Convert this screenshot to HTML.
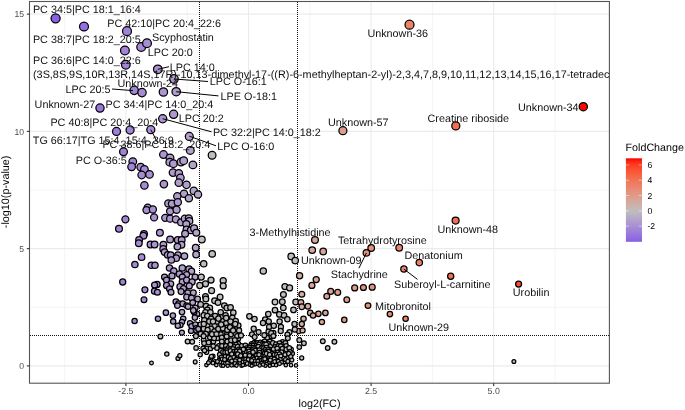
<!DOCTYPE html><html><head><meta charset="utf-8"><style>html,body{margin:0;padding:0;background:#fff;}svg{display:block;will-change:transform;}text{font-family:"Liberation Sans",sans-serif;text-rendering:geometricPrecision;}</style></head><body>
<svg width="685" height="410" viewBox="0 0 685 410">
<defs><clipPath id="pc"><rect x="29.5" y="1.5" width="579.9" height="381.7"/></clipPath>
<linearGradient id="cb" x1="0" y1="0" x2="0" y2="1"><stop offset="0.000" stop-color="#ff0000"/><stop offset="0.050" stop-color="#fd2e16"/><stop offset="0.100" stop-color="#fb4427"/><stop offset="0.150" stop-color="#f95536"/><stop offset="0.200" stop-color="#f66344"/><stop offset="0.250" stop-color="#f37052"/><stop offset="0.300" stop-color="#ef7b60"/><stop offset="0.350" stop-color="#ea876e"/><stop offset="0.400" stop-color="#e5917c"/><stop offset="0.450" stop-color="#de9b8a"/><stop offset="0.500" stop-color="#d7a598"/><stop offset="0.550" stop-color="#cfafa7"/><stop offset="0.600" stop-color="#c5b9b5"/><stop offset="0.650" stop-color="#bcb9c1"/><stop offset="0.700" stop-color="#b7acc7"/><stop offset="0.750" stop-color="#b19fcc"/><stop offset="0.800" stop-color="#aa92d2"/><stop offset="0.850" stop-color="#a285d7"/><stop offset="0.900" stop-color="#9a79dc"/><stop offset="0.950" stop-color="#916ce2"/><stop offset="1.000" stop-color="#865ee7"/></linearGradient></defs>
<rect width="685" height="410" fill="#fff"/>
<line x1="64.60" y1="1.5" x2="64.60" y2="383.2" stroke="#ebebeb" stroke-width="0.55"/><line x1="187.20" y1="1.5" x2="187.20" y2="383.2" stroke="#ebebeb" stroke-width="0.55"/><line x1="309.80" y1="1.5" x2="309.80" y2="383.2" stroke="#ebebeb" stroke-width="0.55"/><line x1="432.40" y1="1.5" x2="432.40" y2="383.2" stroke="#ebebeb" stroke-width="0.55"/><line x1="555.00" y1="1.5" x2="555.00" y2="383.2" stroke="#ebebeb" stroke-width="0.55"/><line x1="29.5" y1="307.27" x2="609.4" y2="307.27" stroke="#ebebeb" stroke-width="0.55"/><line x1="29.5" y1="190.02" x2="609.4" y2="190.02" stroke="#ebebeb" stroke-width="0.55"/><line x1="29.5" y1="72.77" x2="609.4" y2="72.77" stroke="#ebebeb" stroke-width="0.55"/><line x1="125.90" y1="1.5" x2="125.90" y2="383.2" stroke="#ebebeb" stroke-width="1.1"/><line x1="248.50" y1="1.5" x2="248.50" y2="383.2" stroke="#ebebeb" stroke-width="1.1"/><line x1="371.10" y1="1.5" x2="371.10" y2="383.2" stroke="#ebebeb" stroke-width="1.1"/><line x1="493.70" y1="1.5" x2="493.70" y2="383.2" stroke="#ebebeb" stroke-width="1.1"/><line x1="29.5" y1="365.90" x2="609.4" y2="365.90" stroke="#ebebeb" stroke-width="1.1"/><line x1="29.5" y1="248.65" x2="609.4" y2="248.65" stroke="#ebebeb" stroke-width="1.1"/><line x1="29.5" y1="131.40" x2="609.4" y2="131.40" stroke="#ebebeb" stroke-width="1.1"/><line x1="29.5" y1="14.15" x2="609.4" y2="14.15" stroke="#ebebeb" stroke-width="1.1"/>
<g stroke="#111" stroke-width="1.0" stroke-dasharray="1 1">
<line x1="199.5" y1="2" x2="199.5" y2="383"/>
<line x1="297.5" y1="2" x2="297.5" y2="383"/>
<line x1="30" y1="335.5" x2="609" y2="335.5"/>
</g>
<g clip-path="url(#pc)" stroke="#000" stroke-width="1.25">
<circle cx="55.6" cy="18.3" r="4.53" fill="#8961e6"/>
<circle cx="84.0" cy="26.5" r="4.49" fill="#936fe0"/>
<circle cx="127.0" cy="31.2" r="4.47" fill="#a184d8"/>
<circle cx="124.9" cy="50.5" r="4.39" fill="#a183d8"/>
<circle cx="141.2" cy="47.0" r="4.40" fill="#a68bd5"/>
<circle cx="147.0" cy="43.2" r="4.42" fill="#a78dd4"/>
<circle cx="125.8" cy="64.7" r="4.32" fill="#a183d8"/>
<circle cx="157.8" cy="69.3" r="4.30" fill="#aa93d2"/>
<circle cx="174.0" cy="79.0" r="4.26" fill="#ae9ace"/>
<circle cx="134.2" cy="90.3" r="4.21" fill="#a487d6"/>
<circle cx="142.0" cy="92.6" r="4.19" fill="#a68bd5"/>
<circle cx="163.4" cy="92.0" r="4.20" fill="#ac95d1"/>
<circle cx="176.2" cy="91.7" r="4.20" fill="#af9bce"/>
<circle cx="100.0" cy="108.1" r="4.12" fill="#9977dd"/>
<circle cx="116.5" cy="131.4" r="4.00" fill="#9e7fda"/>
<circle cx="130.1" cy="130.0" r="4.01" fill="#a285d7"/>
<circle cx="150.8" cy="129.7" r="4.01" fill="#a88fd3"/>
<circle cx="173.6" cy="114.3" r="4.09" fill="#ae9ace"/>
<circle cx="162.7" cy="118.7" r="4.07" fill="#ab95d1"/>
<circle cx="189.3" cy="136.4" r="3.98" fill="#b2a2cb"/>
<circle cx="190.3" cy="150.4" r="3.90" fill="#b2a2cb"/>
<circle cx="123.5" cy="151.8" r="3.90" fill="#a082d9"/>
<circle cx="163.5" cy="154.6" r="3.88" fill="#ac95d0"/>
<circle cx="212.1" cy="155.3" r="3.88" fill="#bebebe"/>
<circle cx="409.5" cy="24.7" r="4.50" fill="#ec8268"/>
<circle cx="342.9" cy="130.7" r="4.01" fill="#de9c8b"/>
<circle cx="583.3" cy="106.7" r="4.13" fill="#ff0401"/>
<circle cx="455.8" cy="125.9" r="4.03" fill="#f36e50"/>
<circle cx="455.6" cy="220.6" r="3.49" fill="#f36e50"/>
<circle cx="518.6" cy="284.1" r="3.02" fill="#fa4d2e"/>
<circle cx="315.0" cy="240.1" r="3.36" fill="#d6a69a"/>
<circle cx="312.2" cy="250.1" r="3.29" fill="#d6a79b"/>
<circle cx="323.2" cy="251.5" r="3.28" fill="#d9a395"/>
<circle cx="291.2" cy="256.4" r="3.24" fill="#bebebe"/>
<circle cx="295.2" cy="260.6" r="3.21" fill="#bebebe"/>
<circle cx="263.3" cy="271.1" r="3.13" fill="#bebebe"/>
<circle cx="299.6" cy="275.7" r="3.09" fill="#d2aca2"/>
<circle cx="316.2" cy="279.6" r="3.06" fill="#d7a699"/>
<circle cx="371.2" cy="248.0" r="3.30" fill="#e5917c"/>
<circle cx="366.4" cy="252.9" r="3.27" fill="#e4937e"/>
<circle cx="399.2" cy="247.7" r="3.31" fill="#ea866d"/>
<circle cx="419.3" cy="262.6" r="3.20" fill="#ee7e63"/>
<circle cx="403.9" cy="269.1" r="3.14" fill="#eb846b"/>
<circle cx="450.7" cy="276.2" r="3.09" fill="#f37052"/>
<circle cx="513.9" cy="361.5" r="1.93" fill="#bebebe"/>
<circle cx="132.8" cy="161.6" r="3.84" fill="#a387d7"/>
<circle cx="131.6" cy="166.8" r="3.81" fill="#a386d7"/>
<circle cx="140.7" cy="167.1" r="3.81" fill="#a58ad5"/>
<circle cx="144.4" cy="169.5" r="3.80" fill="#a68cd4"/>
<circle cx="141.7" cy="175.0" r="3.77" fill="#a68bd5"/>
<circle cx="149.5" cy="174.4" r="3.77" fill="#a88fd3"/>
<circle cx="144.4" cy="185.4" r="3.71" fill="#a68cd4"/>
<circle cx="170.0" cy="157.9" r="3.86" fill="#ad98cf"/>
<circle cx="169.8" cy="162.2" r="3.84" fill="#ad98cf"/>
<circle cx="173.4" cy="163.7" r="3.83" fill="#ae9ace"/>
<circle cx="181.0" cy="162.0" r="3.84" fill="#b09ecd"/>
<circle cx="183.7" cy="160.7" r="3.85" fill="#b19fcc"/>
<circle cx="192.9" cy="164.9" r="3.83" fill="#b3a3ca"/>
<circle cx="173.0" cy="172.6" r="3.78" fill="#ae9acf"/>
<circle cx="178.8" cy="173.4" r="3.78" fill="#af9dcd"/>
<circle cx="180.4" cy="177.8" r="3.75" fill="#b09dcd"/>
<circle cx="178.8" cy="182.7" r="3.72" fill="#af9dcd"/>
<circle cx="186.5" cy="184.8" r="3.71" fill="#b1a0cc"/>
<circle cx="163.9" cy="184.1" r="3.72" fill="#ac96d0"/>
<circle cx="193.8" cy="190.9" r="3.68" fill="#b3a4ca"/>
<circle cx="198.0" cy="194.5" r="3.65" fill="#b4a6c9"/>
<circle cx="184.0" cy="193.7" r="3.66" fill="#b19fcc"/>
<circle cx="177.3" cy="196.3" r="3.64" fill="#af9cce"/>
<circle cx="188.9" cy="198.2" r="3.63" fill="#b2a1cb"/>
<circle cx="125.4" cy="219.3" r="3.50" fill="#a183d8"/>
<circle cx="119.0" cy="228.8" r="3.44" fill="#9f80d9"/>
<circle cx="147.7" cy="207.7" r="3.57" fill="#a78ed4"/>
<circle cx="146.5" cy="210.1" r="3.56" fill="#a78dd4"/>
<circle cx="152.9" cy="209.5" r="3.56" fill="#a990d3"/>
<circle cx="154.1" cy="217.4" r="3.51" fill="#a991d2"/>
<circle cx="144.0" cy="234.1" r="3.40" fill="#a68cd4"/>
<circle cx="143.4" cy="235.7" r="3.39" fill="#a68cd5"/>
<circle cx="159.9" cy="232.7" r="3.41" fill="#ab94d1"/>
<circle cx="139.1" cy="240.0" r="3.36" fill="#a58ad5"/>
<circle cx="168.3" cy="203.4" r="3.60" fill="#ad98d0"/>
<circle cx="172.0" cy="203.7" r="3.60" fill="#ae99cf"/>
<circle cx="177.8" cy="202.2" r="3.61" fill="#af9cce"/>
<circle cx="170.1" cy="211.3" r="3.55" fill="#ad98cf"/>
<circle cx="176.6" cy="209.8" r="3.56" fill="#af9cce"/>
<circle cx="165.2" cy="217.8" r="3.51" fill="#ac96d0"/>
<circle cx="170.1" cy="218.7" r="3.50" fill="#ad98cf"/>
<circle cx="175.9" cy="219.3" r="3.50" fill="#af9bce"/>
<circle cx="181.1" cy="222.3" r="3.48" fill="#b09ecd"/>
<circle cx="184.8" cy="218.7" r="3.50" fill="#b1a0cc"/>
<circle cx="188.8" cy="218.3" r="3.51" fill="#b2a1cb"/>
<circle cx="189.3" cy="221.1" r="3.49" fill="#b2a2cb"/>
<circle cx="186.3" cy="224.1" r="3.47" fill="#b1a0cc"/>
<circle cx="186.6" cy="229.6" r="3.43" fill="#b1a0cc"/>
<circle cx="190.9" cy="230.2" r="3.43" fill="#b2a2cb"/>
<circle cx="194.1" cy="228.4" r="3.44" fill="#b3a4ca"/>
<circle cx="196.3" cy="232.7" r="3.41" fill="#b3a5ca"/>
<circle cx="185.1" cy="233.7" r="3.40" fill="#b1a0cc"/>
<circle cx="170.1" cy="239.4" r="3.37" fill="#ad98cf"/>
<circle cx="177.8" cy="240.0" r="3.36" fill="#af9cce"/>
<circle cx="181.7" cy="240.0" r="3.36" fill="#b09ecd"/>
<circle cx="201.8" cy="239.4" r="3.37" fill="#bebebe"/>
<circle cx="138.8" cy="243.3" r="3.34" fill="#a58ad6"/>
<circle cx="150.5" cy="244.5" r="3.33" fill="#a88fd3"/>
<circle cx="154.6" cy="244.5" r="3.33" fill="#a991d2"/>
<circle cx="141.6" cy="257.2" r="3.24" fill="#a68bd5"/>
<circle cx="134.9" cy="264.5" r="3.18" fill="#a488d6"/>
<circle cx="151.3" cy="265.2" r="3.17" fill="#a88fd3"/>
<circle cx="155.0" cy="265.2" r="3.17" fill="#a991d2"/>
<circle cx="122.7" cy="282.0" r="3.04" fill="#a082d9"/>
<circle cx="157.1" cy="284.4" r="3.02" fill="#aa92d2"/>
<circle cx="181.5" cy="244.8" r="3.33" fill="#b09ecd"/>
<circle cx="177.4" cy="246.6" r="3.31" fill="#af9cce"/>
<circle cx="163.4" cy="244.8" r="3.33" fill="#ac95d1"/>
<circle cx="163.2" cy="249.0" r="3.30" fill="#ac95d1"/>
<circle cx="164.6" cy="252.1" r="3.27" fill="#ac96d0"/>
<circle cx="167.7" cy="254.8" r="3.25" fill="#ad97d0"/>
<circle cx="170.7" cy="255.1" r="3.25" fill="#ad99cf"/>
<circle cx="178.0" cy="255.1" r="3.25" fill="#af9ccd"/>
<circle cx="176.2" cy="258.2" r="3.23" fill="#af9bce"/>
<circle cx="171.3" cy="260.0" r="3.22" fill="#ae99cf"/>
<circle cx="184.4" cy="256.0" r="3.25" fill="#b19fcc"/>
<circle cx="195.7" cy="247.8" r="3.31" fill="#b3a5ca"/>
<circle cx="196.1" cy="254.5" r="3.26" fill="#b3a5ca"/>
<circle cx="212.2" cy="253.9" r="3.26" fill="#bebebe"/>
<circle cx="203.7" cy="263.7" r="3.19" fill="#bebebe"/>
<circle cx="169.5" cy="267.9" r="3.15" fill="#ad98cf"/>
<circle cx="173.8" cy="271.0" r="3.13" fill="#ae9ace"/>
<circle cx="182.3" cy="267.9" r="3.15" fill="#b09ecd"/>
<circle cx="189.0" cy="268.9" r="3.15" fill="#b2a2cb"/>
<circle cx="191.5" cy="271.3" r="3.13" fill="#b2a3cb"/>
<circle cx="172.0" cy="275.9" r="3.09" fill="#ae99cf"/>
<circle cx="179.3" cy="274.0" r="3.10" fill="#b09dcd"/>
<circle cx="186.6" cy="274.6" r="3.10" fill="#b1a0cc"/>
<circle cx="195.1" cy="277.1" r="3.08" fill="#b3a4ca"/>
<circle cx="201.2" cy="277.1" r="3.08" fill="#bebebe"/>
<circle cx="164.6" cy="277.1" r="3.08" fill="#ac96d0"/>
<circle cx="166.5" cy="280.1" r="3.05" fill="#ac97d0"/>
<circle cx="182.3" cy="277.1" r="3.08" fill="#b09ecd"/>
<circle cx="182.3" cy="282.0" r="3.04" fill="#b09ecd"/>
<circle cx="186.6" cy="280.1" r="3.05" fill="#b1a0cc"/>
<circle cx="192.1" cy="282.0" r="3.04" fill="#b3a3cb"/>
<circle cx="211.0" cy="280.1" r="3.05" fill="#bebebe"/>
<circle cx="223.2" cy="280.7" r="3.05" fill="#bebebe"/>
<circle cx="170.7" cy="283.8" r="3.02" fill="#ad99cf"/>
<circle cx="205.5" cy="283.8" r="3.02" fill="#bebebe"/>
<circle cx="144.9" cy="289.8" r="2.97" fill="#a78cd4"/>
<circle cx="144.0" cy="299.8" r="2.88" fill="#a68cd4"/>
<circle cx="154.6" cy="285.1" r="3.01" fill="#a991d2"/>
<circle cx="154.4" cy="291.2" r="2.96" fill="#a991d2"/>
<circle cx="157.4" cy="292.2" r="2.95" fill="#aa92d2"/>
<circle cx="134.6" cy="320.9" r="2.65" fill="#a487d6"/>
<circle cx="158.0" cy="318.8" r="2.68" fill="#aa93d2"/>
<circle cx="166.5" cy="285.5" r="3.01" fill="#ac97d0"/>
<circle cx="169.5" cy="288.8" r="2.98" fill="#ad98cf"/>
<circle cx="171.0" cy="292.2" r="2.95" fill="#ad99cf"/>
<circle cx="179.9" cy="286.7" r="3.00" fill="#b09dcd"/>
<circle cx="183.5" cy="288.5" r="2.98" fill="#b19fcc"/>
<circle cx="189.3" cy="285.9" r="3.00" fill="#b2a2cb"/>
<circle cx="181.1" cy="291.6" r="2.95" fill="#b09ecd"/>
<circle cx="187.8" cy="292.8" r="2.94" fill="#b2a1cb"/>
<circle cx="193.3" cy="292.8" r="2.94" fill="#b3a4ca"/>
<circle cx="186.6" cy="297.1" r="2.90" fill="#b1a0cc"/>
<circle cx="191.5" cy="298.0" r="2.89" fill="#b2a3cb"/>
<circle cx="197.6" cy="298.9" r="2.88" fill="#b4a6c9"/>
<circle cx="192.7" cy="302.6" r="2.85" fill="#b3a3ca"/>
<circle cx="175.9" cy="301.7" r="2.86" fill="#af9bce"/>
<circle cx="178.7" cy="303.8" r="2.84" fill="#af9dcd"/>
<circle cx="182.7" cy="303.8" r="2.84" fill="#b09fcc"/>
<circle cx="177.4" cy="305.6" r="2.82" fill="#af9cce"/>
<circle cx="186.6" cy="305.6" r="2.82" fill="#b1a0cc"/>
<circle cx="188.0" cy="306.6" r="2.81" fill="#b2a1cb"/>
<circle cx="195.4" cy="307.8" r="2.80" fill="#b3a5ca"/>
<circle cx="182.0" cy="312.0" r="2.75" fill="#b09ecd"/>
<circle cx="197.0" cy="313.9" r="2.73" fill="#b4a5c9"/>
<circle cx="194.1" cy="312.0" r="2.75" fill="#b3a4ca"/>
<circle cx="165.9" cy="312.7" r="2.74" fill="#ac96d0"/>
<circle cx="172.9" cy="315.6" r="2.71" fill="#ae9acf"/>
<circle cx="183.2" cy="318.8" r="2.68" fill="#b09fcc"/>
<circle cx="194.9" cy="317.6" r="2.69" fill="#b3a4ca"/>
<circle cx="173.2" cy="321.5" r="2.65" fill="#ae9ace"/>
<circle cx="182.0" cy="322.1" r="2.64" fill="#b09ecd"/>
<circle cx="180.5" cy="325.1" r="2.60" fill="#b09dcd"/>
<circle cx="177.8" cy="325.7" r="2.60" fill="#af9cce"/>
<circle cx="190.0" cy="323.3" r="2.62" fill="#b2a2cb"/>
<circle cx="191.5" cy="326.3" r="2.59" fill="#b2a3cb"/>
<circle cx="195.4" cy="324.5" r="2.61" fill="#b3a5ca"/>
<circle cx="196.1" cy="328.2" r="2.56" fill="#b3a5ca"/>
<circle cx="193.3" cy="310.5" r="2.77" fill="#b3a4ca"/>
<circle cx="199.8" cy="285.5" r="3.01" fill="#bebebe"/>
<circle cx="223.2" cy="285.9" r="3.00" fill="#bebebe"/>
<circle cx="211.6" cy="290.7" r="2.96" fill="#bebebe"/>
<circle cx="205.5" cy="296.5" r="2.91" fill="#bebebe"/>
<circle cx="205.9" cy="298.9" r="2.88" fill="#bebebe"/>
<circle cx="220.1" cy="297.1" r="2.90" fill="#bebebe"/>
<circle cx="214.6" cy="300.7" r="2.87" fill="#bebebe"/>
<circle cx="218.0" cy="302.6" r="2.85" fill="#bebebe"/>
<circle cx="200.6" cy="304.4" r="2.83" fill="#bebebe"/>
<circle cx="206.1" cy="306.2" r="2.81" fill="#bebebe"/>
<circle cx="209.8" cy="308.0" r="2.79" fill="#bebebe"/>
<circle cx="207.3" cy="309.9" r="2.77" fill="#bebebe"/>
<circle cx="224.4" cy="305.6" r="2.82" fill="#bebebe"/>
<circle cx="226.8" cy="308.0" r="2.79" fill="#bebebe"/>
<circle cx="205.5" cy="312.3" r="2.75" fill="#bebebe"/>
<circle cx="210.4" cy="312.3" r="2.75" fill="#bebebe"/>
<circle cx="203.7" cy="315.4" r="2.72" fill="#bebebe"/>
<circle cx="207.3" cy="316.0" r="2.71" fill="#bebebe"/>
<circle cx="215.2" cy="316.0" r="2.71" fill="#bebebe"/>
<circle cx="220.7" cy="312.3" r="2.75" fill="#bebebe"/>
<circle cx="222.0" cy="317.2" r="2.70" fill="#bebebe"/>
<circle cx="225.6" cy="315.4" r="2.72" fill="#bebebe"/>
<circle cx="204.3" cy="320.2" r="2.66" fill="#bebebe"/>
<circle cx="200.6" cy="324.5" r="2.61" fill="#bebebe"/>
<circle cx="207.3" cy="325.7" r="2.60" fill="#bebebe"/>
<circle cx="214.6" cy="325.7" r="2.60" fill="#bebebe"/>
<circle cx="217.1" cy="321.5" r="2.65" fill="#bebebe"/>
<circle cx="223.2" cy="320.9" r="2.65" fill="#bebebe"/>
<circle cx="226.2" cy="323.3" r="2.62" fill="#bebebe"/>
<circle cx="220.7" cy="328.2" r="2.56" fill="#bebebe"/>
<circle cx="226.8" cy="327.6" r="2.57" fill="#bebebe"/>
<circle cx="203.7" cy="328.8" r="2.56" fill="#bebebe"/>
<circle cx="211.0" cy="328.8" r="2.56" fill="#bebebe"/>
<circle cx="160.4" cy="336.5" r="2.45" fill="#bebebe"/>
<circle cx="166.8" cy="353.9" r="2.14" fill="#bebebe"/>
<circle cx="151.5" cy="362.9" r="1.87" fill="#bebebe"/>
<circle cx="178.0" cy="358.4" r="2.03" fill="#bebebe"/>
<circle cx="181.9" cy="332.6" r="2.51" fill="#b09ecd"/>
<circle cx="191.0" cy="330.9" r="2.53" fill="#b2a2cb"/>
<circle cx="196.3" cy="330.4" r="2.54" fill="#b3a5ca"/>
<circle cx="198.3" cy="328.9" r="2.55" fill="#b4a6c9"/>
<circle cx="187.6" cy="341.6" r="2.37" fill="#bebebe"/>
<circle cx="192.2" cy="341.8" r="2.37" fill="#bebebe"/>
<circle cx="195.9" cy="336.2" r="2.46" fill="#bebebe"/>
<circle cx="200.7" cy="333.8" r="2.49" fill="#bebebe"/>
<circle cx="207.6" cy="329.9" r="2.54" fill="#bebebe"/>
<circle cx="203.7" cy="340.1" r="2.40" fill="#bebebe"/>
<circle cx="196.1" cy="347.9" r="2.27" fill="#bebebe"/>
<circle cx="203.2" cy="348.4" r="2.26" fill="#bebebe"/>
<circle cx="207.1" cy="348.4" r="2.26" fill="#bebebe"/>
<circle cx="210.0" cy="337.5" r="2.44" fill="#bebebe"/>
<circle cx="214.4" cy="331.3" r="2.52" fill="#bebebe"/>
<circle cx="218.3" cy="328.9" r="2.55" fill="#bebebe"/>
<circle cx="213.4" cy="341.6" r="2.37" fill="#bebebe"/>
<circle cx="217.3" cy="338.2" r="2.43" fill="#bebebe"/>
<circle cx="210.5" cy="348.4" r="2.26" fill="#bebebe"/>
<circle cx="206.6" cy="352.3" r="2.18" fill="#bebebe"/>
<circle cx="200.2" cy="354.8" r="2.12" fill="#bebebe"/>
<circle cx="179.8" cy="355.7" r="2.10" fill="#bebebe"/>
<circle cx="195.2" cy="361.9" r="1.91" fill="#bebebe"/>
<circle cx="212.9" cy="356.2" r="2.09" fill="#bebebe"/>
<circle cx="210.5" cy="358.7" r="2.02" fill="#bebebe"/>
<circle cx="214.9" cy="361.6" r="1.93" fill="#bebebe"/>
<circle cx="220.7" cy="350.4" r="2.22" fill="#bebebe"/>
<circle cx="218.8" cy="346.0" r="2.30" fill="#bebebe"/>
<circle cx="222.7" cy="343.0" r="2.35" fill="#bebebe"/>
<circle cx="224.6" cy="338.7" r="2.42" fill="#bebebe"/>
<circle cx="226.6" cy="334.8" r="2.48" fill="#bebebe"/>
<circle cx="224.1" cy="329.4" r="2.55" fill="#bebebe"/>
<circle cx="220.7" cy="334.3" r="2.48" fill="#bebebe"/>
<circle cx="219.8" cy="358.2" r="2.04" fill="#bebebe"/>
<circle cx="223.2" cy="354.3" r="2.13" fill="#bebebe"/>
<circle cx="225.6" cy="348.4" r="2.26" fill="#bebebe"/>
<circle cx="227.6" cy="354.3" r="2.13" fill="#bebebe"/>
<circle cx="226.6" cy="361.1" r="1.94" fill="#bebebe"/>
<circle cx="228.5" cy="344.5" r="2.33" fill="#bebebe"/>
<circle cx="212.9" cy="363.0" r="1.87" fill="#bebebe"/>
<circle cx="284.9" cy="286.5" r="3.00" fill="#bebebe"/>
<circle cx="289.6" cy="287.9" r="2.99" fill="#bebebe"/>
<circle cx="283.4" cy="294.5" r="2.93" fill="#bebebe"/>
<circle cx="275.0" cy="302.0" r="2.85" fill="#bebebe"/>
<circle cx="282.3" cy="301.7" r="2.86" fill="#bebebe"/>
<circle cx="295.7" cy="302.0" r="2.85" fill="#bebebe"/>
<circle cx="283.3" cy="307.8" r="2.80" fill="#bebebe"/>
<circle cx="275.0" cy="310.2" r="2.77" fill="#bebebe"/>
<circle cx="293.5" cy="309.9" r="2.77" fill="#bebebe"/>
<circle cx="279.3" cy="314.4" r="2.73" fill="#bebebe"/>
<circle cx="284.1" cy="315.4" r="2.72" fill="#bebebe"/>
<circle cx="287.4" cy="319.3" r="2.67" fill="#bebebe"/>
<circle cx="268.3" cy="314.1" r="2.73" fill="#bebebe"/>
<circle cx="249.4" cy="316.3" r="2.71" fill="#bebebe"/>
<circle cx="254.5" cy="319.0" r="2.67" fill="#bebebe"/>
<circle cx="265.2" cy="319.6" r="2.67" fill="#bebebe"/>
<circle cx="268.7" cy="321.5" r="2.65" fill="#bebebe"/>
<circle cx="263.0" cy="322.9" r="2.63" fill="#bebebe"/>
<circle cx="279.6" cy="321.5" r="2.65" fill="#bebebe"/>
<circle cx="294.5" cy="323.9" r="2.62" fill="#bebebe"/>
<circle cx="269.1" cy="327.0" r="2.58" fill="#bebebe"/>
<circle cx="273.8" cy="325.7" r="2.60" fill="#bebebe"/>
<circle cx="280.9" cy="327.0" r="2.58" fill="#bebebe"/>
<circle cx="253.7" cy="328.8" r="2.56" fill="#bebebe"/>
<circle cx="230.5" cy="307.4" r="2.80" fill="#bebebe"/>
<circle cx="233.3" cy="312.7" r="2.74" fill="#bebebe"/>
<circle cx="226.2" cy="318.0" r="2.69" fill="#bebebe"/>
<circle cx="232.3" cy="317.8" r="2.69" fill="#bebebe"/>
<circle cx="235.7" cy="320.9" r="2.65" fill="#bebebe"/>
<circle cx="230.5" cy="321.5" r="2.65" fill="#bebebe"/>
<circle cx="238.4" cy="325.4" r="2.60" fill="#bebebe"/>
<circle cx="233.5" cy="327.0" r="2.58" fill="#bebebe"/>
<circle cx="298.8" cy="331.0" r="2.53" fill="#d1aca2"/>
<circle cx="294.8" cy="329.5" r="2.55" fill="#bebebe"/>
<circle cx="289.5" cy="332.2" r="2.51" fill="#bebebe"/>
<circle cx="287.4" cy="334.6" r="2.48" fill="#bebebe"/>
<circle cx="287.8" cy="338.3" r="2.42" fill="#bebebe"/>
<circle cx="299.3" cy="340.1" r="2.40" fill="#bebebe"/>
<circle cx="303.9" cy="343.2" r="2.35" fill="#bebebe"/>
<circle cx="299.3" cy="347.1" r="2.28" fill="#bebebe"/>
<circle cx="301.7" cy="358.0" r="2.04" fill="#bebebe"/>
<circle cx="296.0" cy="365.4" r="1.71" fill="#bebebe"/>
<circle cx="322.8" cy="341.3" r="2.38" fill="#bebebe"/>
<circle cx="334.4" cy="341.7" r="2.37" fill="#bebebe"/>
<circle cx="327.7" cy="348.0" r="2.26" fill="#bebebe"/>
<circle cx="282.6" cy="342.0" r="2.37" fill="#bebebe"/>
<circle cx="291.1" cy="349.3" r="2.24" fill="#bebebe"/>
<circle cx="292.3" cy="353.5" r="2.15" fill="#bebebe"/>
<circle cx="287.4" cy="357.8" r="2.05" fill="#bebebe"/>
<circle cx="284.4" cy="362.1" r="1.91" fill="#bebebe"/>
<circle cx="280.7" cy="331.0" r="2.53" fill="#bebebe"/>
<circle cx="273.4" cy="332.8" r="2.50" fill="#bebebe"/>
<circle cx="267.3" cy="337.7" r="2.43" fill="#bebebe"/>
<circle cx="264.3" cy="335.2" r="2.47" fill="#bebebe"/>
<circle cx="271.6" cy="336.5" r="2.45" fill="#bebebe"/>
<circle cx="268.5" cy="331.6" r="2.52" fill="#bebebe"/>
<circle cx="311.9" cy="285.4" r="3.01" fill="#d5a79b"/>
<circle cx="354.7" cy="287.9" r="2.99" fill="#e19885"/>
<circle cx="363.4" cy="287.5" r="2.99" fill="#e39480"/>
<circle cx="372.2" cy="287.2" r="2.99" fill="#e5917b"/>
<circle cx="301.8" cy="294.2" r="2.93" fill="#d2aba1"/>
<circle cx="330.7" cy="291.4" r="2.95" fill="#dba191"/>
<circle cx="337.7" cy="292.4" r="2.95" fill="#dd9e8e"/>
<circle cx="326.8" cy="296.3" r="2.91" fill="#daa293"/>
<circle cx="346.8" cy="299.8" r="2.88" fill="#df9b89"/>
<circle cx="368.0" cy="305.6" r="2.82" fill="#e4927e"/>
<circle cx="300.9" cy="302.4" r="2.85" fill="#d2aba1"/>
<circle cx="301.8" cy="306.8" r="2.81" fill="#d2aba1"/>
<circle cx="307.9" cy="306.3" r="2.81" fill="#d4a99e"/>
<circle cx="310.2" cy="312.9" r="2.74" fill="#d5a89c"/>
<circle cx="313.1" cy="315.5" r="2.71" fill="#d6a79b"/>
<circle cx="318.4" cy="313.8" r="2.73" fill="#d7a598"/>
<circle cx="325.4" cy="312.9" r="2.74" fill="#d9a394"/>
<circle cx="303.5" cy="318.7" r="2.68" fill="#d3aba0"/>
<circle cx="321.9" cy="322.0" r="2.64" fill="#d8a496"/>
<circle cx="344.3" cy="319.9" r="2.66" fill="#de9b8a"/>
<circle cx="301.8" cy="324.0" r="2.62" fill="#d2aba1"/>
<circle cx="302.6" cy="330.4" r="2.54" fill="#d3aba0"/>
<circle cx="389.9" cy="314.1" r="2.73" fill="#e98a72"/>
<circle cx="405.6" cy="318.7" r="2.68" fill="#ec836a"/>
<circle cx="222.9" cy="328.3" r="2.56" fill="#bebebe"/>
<circle cx="227.3" cy="329.9" r="2.54" fill="#bebebe"/>
<circle cx="236.0" cy="329.4" r="2.55" fill="#bebebe"/>
<circle cx="214.1" cy="338.2" r="2.43" fill="#bebebe"/>
<circle cx="221.8" cy="337.6" r="2.43" fill="#bebebe"/>
<circle cx="226.7" cy="336.5" r="2.45" fill="#bebebe"/>
<circle cx="231.1" cy="334.3" r="2.48" fill="#bebebe"/>
<circle cx="235.5" cy="333.8" r="2.49" fill="#bebebe"/>
<circle cx="238.2" cy="338.7" r="2.42" fill="#bebebe"/>
<circle cx="208.6" cy="342.5" r="2.36" fill="#bebebe"/>
<circle cx="221.8" cy="341.4" r="2.38" fill="#bebebe"/>
<circle cx="227.3" cy="341.4" r="2.38" fill="#bebebe"/>
<circle cx="232.2" cy="343.6" r="2.34" fill="#bebebe"/>
<circle cx="237.1" cy="342.5" r="2.36" fill="#bebebe"/>
<circle cx="216.9" cy="348.0" r="2.26" fill="#bebebe"/>
<circle cx="230.6" cy="346.9" r="2.28" fill="#bebebe"/>
<circle cx="235.0" cy="349.7" r="2.23" fill="#bebebe"/>
<circle cx="219.6" cy="354.6" r="2.13" fill="#bebebe"/>
<circle cx="222.9" cy="351.9" r="2.19" fill="#bebebe"/>
<circle cx="225.1" cy="356.8" r="2.07" fill="#bebebe"/>
<circle cx="230.0" cy="353.5" r="2.15" fill="#bebebe"/>
<circle cx="235.0" cy="355.7" r="2.10" fill="#bebebe"/>
<circle cx="238.2" cy="352.4" r="2.18" fill="#bebebe"/>
<circle cx="209.7" cy="361.2" r="1.94" fill="#bebebe"/>
<circle cx="206.4" cy="365.0" r="1.75" fill="#bebebe"/>
<circle cx="216.3" cy="365.0" r="1.75" fill="#bebebe"/>
<circle cx="219.6" cy="360.1" r="1.98" fill="#bebebe"/>
<circle cx="222.9" cy="362.8" r="1.88" fill="#bebebe"/>
<circle cx="230.0" cy="363.4" r="1.85" fill="#bebebe"/>
<circle cx="233.3" cy="360.1" r="1.98" fill="#bebebe"/>
<circle cx="236.6" cy="362.8" r="1.88" fill="#bebebe"/>
<circle cx="238.2" cy="357.9" r="2.04" fill="#bebebe"/>
<circle cx="233.9" cy="365.0" r="1.75" fill="#bebebe"/>
<circle cx="258.6" cy="332.1" r="2.51" fill="#bebebe"/>
<circle cx="252.0" cy="334.3" r="2.48" fill="#bebebe"/>
<circle cx="254.7" cy="337.1" r="2.44" fill="#bebebe"/>
<circle cx="264.6" cy="341.4" r="2.38" fill="#bebebe"/>
<circle cx="271.2" cy="333.2" r="2.50" fill="#bebebe"/>
<circle cx="273.4" cy="336.0" r="2.46" fill="#bebebe"/>
<circle cx="237.2" cy="336.0" r="2.46" fill="#bebebe"/>
<circle cx="241.0" cy="335.4" r="2.47" fill="#bebebe"/>
<circle cx="238.3" cy="343.6" r="2.34" fill="#bebebe"/>
<circle cx="241.6" cy="345.8" r="2.30" fill="#bebebe"/>
<circle cx="269.9" cy="341.4" r="2.38" fill="#bebebe"/>
<circle cx="235.1" cy="343.2" r="2.35" fill="#bebebe"/>
<circle cx="251.7" cy="344.0" r="2.34" fill="#bebebe"/>
<circle cx="254.4" cy="342.7" r="2.36" fill="#bebebe"/>
<circle cx="256.0" cy="343.4" r="2.34" fill="#bebebe"/>
<circle cx="257.7" cy="343.0" r="2.35" fill="#bebebe"/>
<circle cx="260.4" cy="342.4" r="2.36" fill="#bebebe"/>
<circle cx="262.6" cy="343.6" r="2.34" fill="#bebebe"/>
<circle cx="268.0" cy="343.7" r="2.34" fill="#bebebe"/>
<circle cx="222.0" cy="345.8" r="2.30" fill="#bebebe"/>
<circle cx="225.9" cy="345.8" r="2.30" fill="#bebebe"/>
<circle cx="230.4" cy="344.7" r="2.32" fill="#bebebe"/>
<circle cx="236.0" cy="344.7" r="2.32" fill="#bebebe"/>
<circle cx="245.4" cy="345.4" r="2.31" fill="#bebebe"/>
<circle cx="250.9" cy="345.7" r="2.31" fill="#bebebe"/>
<circle cx="253.3" cy="345.7" r="2.31" fill="#bebebe"/>
<circle cx="256.7" cy="345.4" r="2.31" fill="#bebebe"/>
<circle cx="259.0" cy="344.4" r="2.33" fill="#bebebe"/>
<circle cx="264.3" cy="344.4" r="2.33" fill="#bebebe"/>
<circle cx="266.1" cy="344.5" r="2.33" fill="#bebebe"/>
<circle cx="270.9" cy="345.8" r="2.30" fill="#bebebe"/>
<circle cx="228.0" cy="348.1" r="2.26" fill="#bebebe"/>
<circle cx="234.3" cy="346.8" r="2.29" fill="#bebebe"/>
<circle cx="237.6" cy="346.6" r="2.29" fill="#bebebe"/>
<circle cx="246.7" cy="348.1" r="2.26" fill="#bebebe"/>
<circle cx="249.7" cy="347.6" r="2.27" fill="#bebebe"/>
<circle cx="253.2" cy="347.7" r="2.27" fill="#bebebe"/>
<circle cx="256.3" cy="347.7" r="2.27" fill="#bebebe"/>
<circle cx="258.3" cy="346.7" r="2.29" fill="#bebebe"/>
<circle cx="261.6" cy="348.1" r="2.26" fill="#bebebe"/>
<circle cx="264.0" cy="347.8" r="2.27" fill="#bebebe"/>
<circle cx="266.4" cy="347.7" r="2.27" fill="#bebebe"/>
<circle cx="227.0" cy="350.2" r="2.22" fill="#bebebe"/>
<circle cx="230.5" cy="348.8" r="2.25" fill="#bebebe"/>
<circle cx="232.9" cy="348.8" r="2.25" fill="#bebebe"/>
<circle cx="238.8" cy="349.3" r="2.24" fill="#bebebe"/>
<circle cx="240.9" cy="349.9" r="2.23" fill="#bebebe"/>
<circle cx="246.1" cy="349.8" r="2.23" fill="#bebebe"/>
<circle cx="248.3" cy="349.3" r="2.24" fill="#bebebe"/>
<circle cx="252.3" cy="349.9" r="2.23" fill="#bebebe"/>
<circle cx="257.2" cy="350.1" r="2.22" fill="#bebebe"/>
<circle cx="265.3" cy="349.9" r="2.23" fill="#bebebe"/>
<circle cx="270.3" cy="349.6" r="2.23" fill="#bebebe"/>
<circle cx="225.0" cy="352.2" r="2.18" fill="#bebebe"/>
<circle cx="227.3" cy="352.1" r="2.18" fill="#bebebe"/>
<circle cx="230.4" cy="350.9" r="2.21" fill="#bebebe"/>
<circle cx="234.1" cy="351.5" r="2.19" fill="#bebebe"/>
<circle cx="236.6" cy="351.2" r="2.20" fill="#bebebe"/>
<circle cx="244.4" cy="352.1" r="2.18" fill="#bebebe"/>
<circle cx="246.5" cy="352.1" r="2.18" fill="#bebebe"/>
<circle cx="249.0" cy="351.4" r="2.20" fill="#bebebe"/>
<circle cx="255.3" cy="351.9" r="2.19" fill="#bebebe"/>
<circle cx="261.4" cy="351.5" r="2.20" fill="#bebebe"/>
<circle cx="265.9" cy="351.9" r="2.19" fill="#bebebe"/>
<circle cx="233.4" cy="354.3" r="2.14" fill="#bebebe"/>
<circle cx="236.2" cy="354.1" r="2.14" fill="#bebebe"/>
<circle cx="240.7" cy="354.3" r="2.14" fill="#bebebe"/>
<circle cx="249.4" cy="353.8" r="2.15" fill="#bebebe"/>
<circle cx="253.1" cy="354.2" r="2.14" fill="#bebebe"/>
<circle cx="257.7" cy="352.8" r="2.17" fill="#bebebe"/>
<circle cx="260.5" cy="354.3" r="2.13" fill="#bebebe"/>
<circle cx="264.4" cy="353.4" r="2.15" fill="#bebebe"/>
<circle cx="267.9" cy="354.1" r="2.14" fill="#bebebe"/>
<circle cx="271.8" cy="353.2" r="2.16" fill="#bebebe"/>
<circle cx="230.0" cy="355.6" r="2.10" fill="#bebebe"/>
<circle cx="238.6" cy="356.1" r="2.09" fill="#bebebe"/>
<circle cx="244.1" cy="356.3" r="2.09" fill="#bebebe"/>
<circle cx="247.2" cy="355.1" r="2.12" fill="#bebebe"/>
<circle cx="251.5" cy="355.9" r="2.10" fill="#bebebe"/>
<circle cx="256.5" cy="355.4" r="2.11" fill="#bebebe"/>
<circle cx="261.2" cy="356.1" r="2.09" fill="#bebebe"/>
<circle cx="265.0" cy="356.2" r="2.09" fill="#bebebe"/>
<circle cx="270.7" cy="356.3" r="2.09" fill="#bebebe"/>
<circle cx="221.4" cy="357.2" r="2.06" fill="#bebebe"/>
<circle cx="228.3" cy="357.3" r="2.06" fill="#bebebe"/>
<circle cx="231.5" cy="357.2" r="2.06" fill="#bebebe"/>
<circle cx="233.4" cy="357.0" r="2.07" fill="#bebebe"/>
<circle cx="241.0" cy="357.7" r="2.05" fill="#bebebe"/>
<circle cx="246.2" cy="356.9" r="2.07" fill="#bebebe"/>
<circle cx="248.4" cy="357.5" r="2.05" fill="#bebebe"/>
<circle cx="250.2" cy="358.2" r="2.03" fill="#bebebe"/>
<circle cx="252.4" cy="357.6" r="2.05" fill="#bebebe"/>
<circle cx="255.3" cy="358.5" r="2.03" fill="#bebebe"/>
<circle cx="257.1" cy="358.2" r="2.03" fill="#bebebe"/>
<circle cx="260.2" cy="357.9" r="2.04" fill="#bebebe"/>
<circle cx="266.2" cy="358.1" r="2.04" fill="#bebebe"/>
<circle cx="269.0" cy="357.0" r="2.07" fill="#bebebe"/>
<circle cx="271.1" cy="358.2" r="2.03" fill="#bebebe"/>
<circle cx="222.2" cy="359.2" r="2.00" fill="#bebebe"/>
<circle cx="224.6" cy="359.6" r="1.99" fill="#bebebe"/>
<circle cx="229.4" cy="360.5" r="1.96" fill="#bebebe"/>
<circle cx="236.7" cy="359.4" r="2.00" fill="#bebebe"/>
<circle cx="241.8" cy="359.7" r="1.99" fill="#bebebe"/>
<circle cx="243.7" cy="359.7" r="1.99" fill="#bebebe"/>
<circle cx="245.7" cy="359.3" r="2.00" fill="#bebebe"/>
<circle cx="248.3" cy="359.5" r="2.00" fill="#bebebe"/>
<circle cx="253.4" cy="359.2" r="2.01" fill="#bebebe"/>
<circle cx="259.1" cy="360.0" r="1.98" fill="#bebebe"/>
<circle cx="261.4" cy="360.4" r="1.97" fill="#bebebe"/>
<circle cx="263.2" cy="359.4" r="2.00" fill="#bebebe"/>
<circle cx="268.6" cy="360.0" r="1.98" fill="#bebebe"/>
<circle cx="219.7" cy="362.0" r="1.91" fill="#bebebe"/>
<circle cx="233.7" cy="362.1" r="1.90" fill="#bebebe"/>
<circle cx="235.3" cy="360.9" r="1.95" fill="#bebebe"/>
<circle cx="239.9" cy="362.4" r="1.89" fill="#bebebe"/>
<circle cx="243.1" cy="362.0" r="1.91" fill="#bebebe"/>
<circle cx="245.6" cy="362.1" r="1.91" fill="#bebebe"/>
<circle cx="250.7" cy="362.2" r="1.90" fill="#bebebe"/>
<circle cx="252.6" cy="361.8" r="1.92" fill="#bebebe"/>
<circle cx="255.3" cy="361.0" r="1.95" fill="#bebebe"/>
<circle cx="257.8" cy="361.3" r="1.94" fill="#bebebe"/>
<circle cx="265.0" cy="362.6" r="1.88" fill="#bebebe"/>
<circle cx="267.0" cy="361.6" r="1.93" fill="#bebebe"/>
<circle cx="269.4" cy="362.1" r="1.91" fill="#bebebe"/>
<circle cx="225.4" cy="363.5" r="1.84" fill="#bebebe"/>
<circle cx="227.5" cy="363.0" r="1.87" fill="#bebebe"/>
<circle cx="234.9" cy="363.5" r="1.84" fill="#bebebe"/>
<circle cx="245.1" cy="364.6" r="1.78" fill="#bebebe"/>
<circle cx="249.6" cy="364.7" r="1.77" fill="#bebebe"/>
<circle cx="253.3" cy="364.7" r="1.77" fill="#bebebe"/>
<circle cx="255.7" cy="364.0" r="1.82" fill="#bebebe"/>
<circle cx="258.0" cy="363.9" r="1.82" fill="#bebebe"/>
<circle cx="261.8" cy="363.2" r="1.86" fill="#bebebe"/>
<circle cx="266.5" cy="364.2" r="1.80" fill="#bebebe"/>
<circle cx="221.3" cy="365.6" r="1.69" fill="#bebebe"/>
<circle cx="223.2" cy="365.7" r="1.68" fill="#bebebe"/>
<circle cx="227.7" cy="365.8" r="1.65" fill="#bebebe"/>
<circle cx="231.6" cy="365.3" r="1.73" fill="#bebebe"/>
<circle cx="236.5" cy="365.6" r="1.69" fill="#bebebe"/>
<circle cx="241.5" cy="365.8" r="1.65" fill="#bebebe"/>
<circle cx="265.4" cy="365.8" r="1.65" fill="#bebebe"/>
<circle cx="269.8" cy="365.8" r="1.65" fill="#bebebe"/>
<circle cx="272.9" cy="343.0" r="2.35" fill="#bebebe"/>
<circle cx="276.0" cy="344.3" r="2.33" fill="#bebebe"/>
<circle cx="279.5" cy="343.1" r="2.35" fill="#bebebe"/>
<circle cx="283.2" cy="344.5" r="2.33" fill="#bebebe"/>
<circle cx="285.4" cy="342.9" r="2.35" fill="#bebebe"/>
<circle cx="275.1" cy="346.9" r="2.28" fill="#bebebe"/>
<circle cx="278.4" cy="346.0" r="2.30" fill="#bebebe"/>
<circle cx="280.8" cy="346.2" r="2.30" fill="#bebebe"/>
<circle cx="286.2" cy="345.8" r="2.30" fill="#bebebe"/>
<circle cx="273.5" cy="349.0" r="2.24" fill="#bebebe"/>
<circle cx="277.2" cy="348.3" r="2.26" fill="#bebebe"/>
<circle cx="282.3" cy="348.7" r="2.25" fill="#bebebe"/>
<circle cx="286.3" cy="349.4" r="2.24" fill="#bebebe"/>
<circle cx="289.2" cy="347.9" r="2.27" fill="#bebebe"/>
<circle cx="277.8" cy="352.2" r="2.18" fill="#bebebe"/>
<circle cx="281.6" cy="352.0" r="2.18" fill="#bebebe"/>
<circle cx="290.0" cy="351.7" r="2.19" fill="#bebebe"/>
<circle cx="274.3" cy="354.4" r="2.13" fill="#bebebe"/>
<circle cx="276.8" cy="354.5" r="2.13" fill="#bebebe"/>
<circle cx="279.4" cy="354.1" r="2.14" fill="#bebebe"/>
<circle cx="285.0" cy="354.7" r="2.12" fill="#bebebe"/>
<circle cx="288.8" cy="353.6" r="2.15" fill="#bebebe"/>
<circle cx="278.0" cy="356.7" r="2.08" fill="#bebebe"/>
<circle cx="280.8" cy="356.1" r="2.09" fill="#bebebe"/>
<circle cx="290.8" cy="356.8" r="2.07" fill="#bebebe"/>
<circle cx="274.2" cy="359.1" r="2.01" fill="#bebebe"/>
<circle cx="280.3" cy="359.6" r="2.00" fill="#bebebe"/>
<circle cx="285.5" cy="359.5" r="2.00" fill="#bebebe"/>
<circle cx="291.8" cy="360.0" r="1.98" fill="#bebebe"/>
<circle cx="274.7" cy="361.6" r="1.92" fill="#bebebe"/>
<circle cx="278.3" cy="361.2" r="1.94" fill="#bebebe"/>
<circle cx="281.5" cy="362.2" r="1.90" fill="#bebebe"/>
<circle cx="287.8" cy="361.4" r="1.93" fill="#bebebe"/>
<circle cx="273.0" cy="364.9" r="1.76" fill="#bebebe"/>
<circle cx="276.1" cy="365.2" r="1.73" fill="#bebebe"/>
<circle cx="279.5" cy="363.8" r="1.83" fill="#bebebe"/>
<circle cx="285.8" cy="365.2" r="1.73" fill="#bebebe"/>
<circle cx="291.0" cy="365.2" r="1.73" fill="#bebebe"/>
<circle cx="243.3" cy="349.3" r="2.24" fill="#bebebe"/>
<circle cx="254.0" cy="349.1" r="2.24" fill="#bebebe"/>
<circle cx="255.2" cy="350.4" r="2.22" fill="#bebebe"/>
<circle cx="259.3" cy="350.0" r="2.23" fill="#bebebe"/>
<circle cx="268.2" cy="349.9" r="2.23" fill="#bebebe"/>
<circle cx="239.6" cy="351.3" r="2.20" fill="#bebebe"/>
<circle cx="253.0" cy="352.1" r="2.18" fill="#bebebe"/>
<circle cx="259.6" cy="352.6" r="2.17" fill="#bebebe"/>
<circle cx="268.6" cy="351.6" r="2.19" fill="#bebebe"/>
<circle cx="231.7" cy="353.9" r="2.14" fill="#bebebe"/>
<circle cx="237.7" cy="353.9" r="2.14" fill="#bebebe"/>
<circle cx="266.4" cy="353.6" r="2.15" fill="#bebebe"/>
<circle cx="269.6" cy="354.6" r="2.13" fill="#bebebe"/>
<circle cx="240.7" cy="355.8" r="2.10" fill="#bebebe"/>
<circle cx="245.2" cy="355.2" r="2.11" fill="#bebebe"/>
<circle cx="249.5" cy="355.6" r="2.10" fill="#bebebe"/>
<circle cx="259.0" cy="354.8" r="2.12" fill="#bebebe"/>
<circle cx="230.4" cy="358.6" r="2.02" fill="#bebebe"/>
<circle cx="239.6" cy="360.0" r="1.98" fill="#bebebe"/>
<circle cx="264.8" cy="358.9" r="2.02" fill="#bebebe"/>
<circle cx="270.3" cy="360.1" r="1.98" fill="#bebebe"/>
<circle cx="231.7" cy="361.1" r="1.94" fill="#bebebe"/>
<circle cx="251.7" cy="360.5" r="1.96" fill="#bebebe"/>
<circle cx="247.1" cy="363.5" r="1.84" fill="#bebebe"/>
<circle cx="242.9" cy="365.1" r="1.74" fill="#bebebe"/>
<circle cx="251.7" cy="365.8" r="1.66" fill="#bebebe"/>
<circle cx="259.7" cy="365.4" r="1.71" fill="#bebebe"/>
<circle cx="263.1" cy="364.6" r="1.78" fill="#bebebe"/>
<circle cx="211.1" cy="318.9" r="2.68" fill="#bebebe"/>
<circle cx="218.4" cy="318.6" r="2.68" fill="#bebebe"/>
<circle cx="209.3" cy="321.4" r="2.65" fill="#bebebe"/>
<circle cx="213.0" cy="321.5" r="2.65" fill="#bebebe"/>
<circle cx="203.8" cy="323.9" r="2.62" fill="#bebebe"/>
<circle cx="221.2" cy="324.6" r="2.61" fill="#bebebe"/>
<circle cx="235.2" cy="324.1" r="2.61" fill="#bebebe"/>
<circle cx="230.0" cy="327.3" r="2.57" fill="#bebebe"/>
<circle cx="233.1" cy="330.5" r="2.53" fill="#bebebe"/>
<circle cx="239.1" cy="330.4" r="2.54" fill="#bebebe"/>
<circle cx="205.9" cy="333.9" r="2.49" fill="#bebebe"/>
<circle cx="212.0" cy="334.2" r="2.48" fill="#bebebe"/>
<circle cx="216.5" cy="334.0" r="2.49" fill="#bebebe"/>
<circle cx="203.6" cy="336.1" r="2.46" fill="#bebebe"/>
<circle cx="231.1" cy="340.2" r="2.40" fill="#bebebe"/>
<circle cx="234.8" cy="340.1" r="2.40" fill="#bebebe"/>
<circle cx="204.1" cy="343.3" r="2.35" fill="#bebebe"/>
<circle cx="213.2" cy="346.1" r="2.30" fill="#bebebe"/>
<circle cx="208.4" cy="362.8" r="1.88" fill="#bebebe"/>
<circle cx="211.4" cy="356.4" r="2.08" fill="#bebebe"/>
<circle cx="217.4" cy="361.5" r="1.93" fill="#bebebe"/>
<circle cx="204.5" cy="350.5" r="2.22" fill="#bebebe"/>
</g>
<g stroke="#000" stroke-width="1.0" clip-path="url(#pc)">
<line x1="112.0" y1="89.0" x2="133.0" y2="90.6"/>
<line x1="157.8" y1="69.3" x2="169.0" y2="66.7"/>
<line x1="174.0" y1="79.0" x2="208.0" y2="81.5"/>
<line x1="176.2" y1="91.7" x2="218.5" y2="95.9"/>
<line x1="162.7" y1="118.7" x2="211.5" y2="131.8"/>
<line x1="150.8" y1="129.7" x2="156.5" y2="140.5"/>
<line x1="189.3" y1="136.2" x2="216.0" y2="145.8"/>
<line x1="366.4" y1="252.9" x2="358.9" y2="268.2"/>
<line x1="403.9" y1="269.1" x2="417.5" y2="279.4"/>
</g>
<g clip-path="url(#pc)" font-size="10.8" fill="#111">
<text x="32.9" y="13.4">PC 34:5|PC 18:1_16:4</text>
<text x="107.2" y="27.1">PC 42:10|PC 20:4_22:6</text>
<text x="32.9" y="43.2">PC 38:7|PC 18:2_20:5</text>
<text x="152.0" y="41.2">Scyphostatin</text>
<text x="147.7" y="55.8">LPC 20:0</text>
<text x="33.0" y="63.5">PC 36:6|PC 14:0_22:6</text>
<text x="169.7" y="70.7">LPC 14:0</text>
<text x="33.0" y="77.6" font-size="10.84">(3S,8S,9S,10R,13R,14S,17R)-10,13-dimethyl-17-((R)-6-methylheptan-2-yl)-2,3,4,7,8,9,10,11,12,13,14,15,16,17-tetradecahydro</text>
<text x="117.5" y="86.5">Unknown-24</text>
<text x="209.8" y="85.1">LPC O-16:1</text>
<text x="65.6" y="93.2">LPC 20:5</text>
<text x="220.6" y="99.6">LPE O-18:1</text>
<text x="34.6" y="108.2">Unknown-27</text>
<text x="105.5" y="107.6">PC 34:4|PC 14:0_20:4</text>
<text x="178.8" y="122.2">LPC 20:2</text>
<text x="50.4" y="125.7">PC 40:8|PC 20:4_20:4</text>
<text x="212.9" y="136.2">PC 32:2|PC 14:0_18:2</text>
<text x="32.8" y="143.8">TG 66:17|TG 15:4_15:4_36:9</text>
<text x="102.4" y="148.4">PC 38:6|PC 18:2_20:4</text>
<text x="217.3" y="150.3">LPC O-16:0</text>
<text x="75.8" y="164.0">PC O-36:5</text>
<text x="367.4" y="37.0">Unknown-36</text>
<text x="328.0" y="126.0">Unknown-57</text>
<text x="427.5" y="121.8">Creatine riboside</text>
<text x="518.0" y="110.8">Unknown-34</text>
<text x="437.5" y="232.8">Unknown-48</text>
<text x="249.6" y="236.0">3-Methylhistidine</text>
<text x="337.9" y="243.7">Tetrahydrotyrosine</text>
<text x="301.0" y="263.5">Unknown-09</text>
<text x="404.5" y="258.8">Denatonium</text>
<text x="330.8" y="277.8">Stachydrine</text>
<text x="394.0" y="288.0">Suberoyl-L-carnitine</text>
<text x="512.8" y="296.1">Urobilin</text>
<text x="375.0" y="310.0">Mitobronitol</text>
<text x="388.5" y="331.0">Unknown-29</text>
</g>
<rect x="29.5" y="1.5" width="579.9" height="381.7" fill="none" stroke="#555" stroke-width="1.1"/>
<line x1="125.90" y1="383.2" x2="125.90" y2="385.9" stroke="#333" stroke-width="1.1"/><text x="125.90" y="394.4" font-size="8.8" fill="#4d4d4d" text-anchor="middle">-2.5</text><line x1="248.50" y1="383.2" x2="248.50" y2="385.9" stroke="#333" stroke-width="1.1"/><text x="248.50" y="394.4" font-size="8.8" fill="#4d4d4d" text-anchor="middle">0.0</text><line x1="371.10" y1="383.2" x2="371.10" y2="385.9" stroke="#333" stroke-width="1.1"/><text x="371.10" y="394.4" font-size="8.8" fill="#4d4d4d" text-anchor="middle">2.5</text><line x1="493.70" y1="383.2" x2="493.70" y2="385.9" stroke="#333" stroke-width="1.1"/><text x="493.70" y="394.4" font-size="8.8" fill="#4d4d4d" text-anchor="middle">5.0</text><line x1="26.8" y1="365.90" x2="29.5" y2="365.90" stroke="#333" stroke-width="1.1"/><text x="24.0" y="369.00" font-size="8.6" fill="#4d4d4d" text-anchor="end">0</text><line x1="26.8" y1="248.65" x2="29.5" y2="248.65" stroke="#333" stroke-width="1.1"/><text x="24.0" y="251.75" font-size="8.6" fill="#4d4d4d" text-anchor="end">5</text><line x1="26.8" y1="131.40" x2="29.5" y2="131.40" stroke="#333" stroke-width="1.1"/><text x="24.0" y="134.50" font-size="8.6" fill="#4d4d4d" text-anchor="end">10</text><line x1="26.8" y1="14.15" x2="29.5" y2="14.15" stroke="#333" stroke-width="1.1"/><text x="24.0" y="17.25" font-size="8.6" fill="#4d4d4d" text-anchor="end">15</text>
<text x="319.5" y="406.5" font-size="10.8" fill="#000" text-anchor="middle">log2(FC)</text>
<text transform="translate(8.8,191.9) rotate(-90)" font-size="10.8" fill="#000" text-anchor="middle">-log10(p-value)</text>
<text x="625.6" y="151.2" font-size="10.7" fill="#000">FoldChange</text>
<rect x="625.9" y="158.3" width="16.1" height="83.5" fill="url(#cb)"/>
<line x1="625.9" y1="164.95" x2="629.1" y2="164.95" stroke="#fff" stroke-width="0.5"/><line x1="638.9" y1="164.95" x2="642.0" y2="164.95" stroke="#fff" stroke-width="0.5"/><text x="647.5" y="168.05" font-size="8.6" fill="#000">6</text><line x1="625.9" y1="180.25" x2="629.1" y2="180.25" stroke="#fff" stroke-width="0.5"/><line x1="638.9" y1="180.25" x2="642.0" y2="180.25" stroke="#fff" stroke-width="0.5"/><text x="647.5" y="183.35" font-size="8.6" fill="#000">4</text><line x1="625.9" y1="195.54" x2="629.1" y2="195.54" stroke="#fff" stroke-width="0.5"/><line x1="638.9" y1="195.54" x2="642.0" y2="195.54" stroke="#fff" stroke-width="0.5"/><text x="647.5" y="198.64" font-size="8.6" fill="#000">2</text><line x1="625.9" y1="210.83" x2="629.1" y2="210.83" stroke="#fff" stroke-width="0.5"/><line x1="638.9" y1="210.83" x2="642.0" y2="210.83" stroke="#fff" stroke-width="0.5"/><text x="647.5" y="213.93" font-size="8.6" fill="#000">0</text><line x1="625.9" y1="226.12" x2="629.1" y2="226.12" stroke="#fff" stroke-width="0.5"/><line x1="638.9" y1="226.12" x2="642.0" y2="226.12" stroke="#fff" stroke-width="0.5"/><text x="647.5" y="229.22" font-size="8.6" fill="#000">-2</text>
</svg></body></html>
